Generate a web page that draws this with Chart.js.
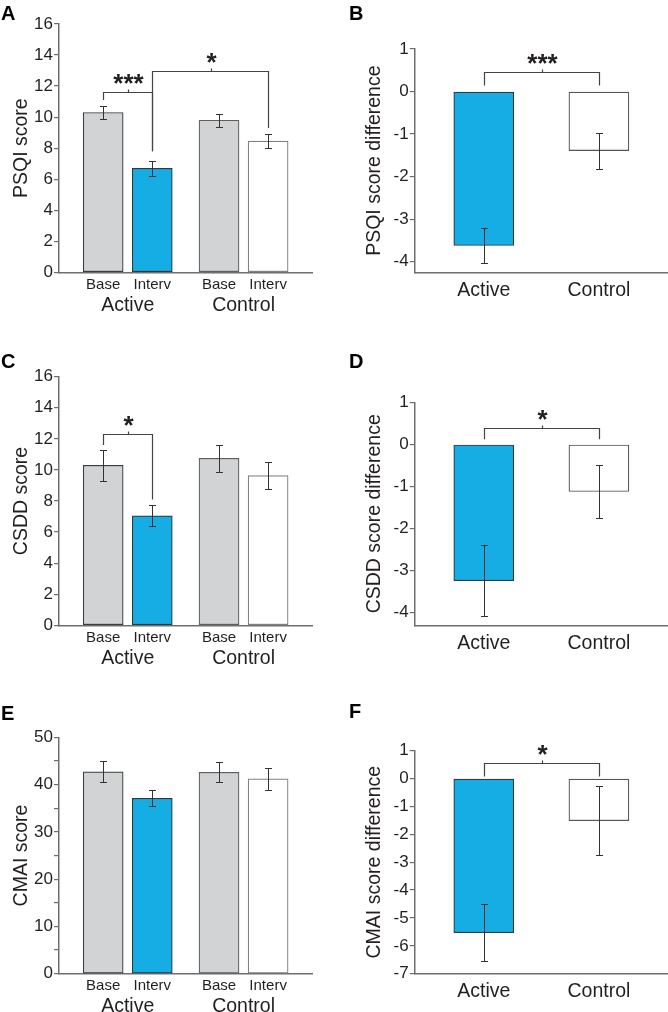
<!DOCTYPE html>
<html>
<head>
<meta charset="utf-8">
<title>PSQI, CSDD and CMAI scores</title>
<script src="https://cdn.jsdelivr.net/npm/chart.js@4.4.1/dist/chart.umd.min.js"></script>
<style>
  html, body { margin: 0; padding: 0; background: #fff; }
  #figure { position: relative; width: 668px; height: 1012px; overflow: hidden; }
  #figure canvas { position: absolute; }
  .panel-label { position: absolute; font: bold 20px 'Liberation Sans', Arial, sans-serif; line-height: 20px; color: #000; }
</style>
</head>
<body>
<div id="figure">
  <canvas id="chartA" width="334" height="330" style="left:0;top:0"></canvas>
  <canvas id="chartB" width="334" height="330" style="left:334px;top:0"></canvas>
  <canvas id="chartC" width="334" height="340" style="left:0;top:330px"></canvas>
  <canvas id="chartD" width="334" height="340" style="left:334px;top:330px"></canvas>
  <canvas id="chartE" width="334" height="342" style="left:0;top:670px"></canvas>
  <canvas id="chartF" width="334" height="342" style="left:334px;top:670px"></canvas>
  <div class="panel-label" style="left:1px;top:3px">A</div>
  <div class="panel-label" style="left:349px;top:3px">B</div>
  <div class="panel-label" style="left:1px;top:351px">C</div>
  <div class="panel-label" style="left:349px;top:351px">D</div>
  <div class="panel-label" style="left:1px;top:703px">E</div>
  <div class="panel-label" style="left:349px;top:701px">F</div>
</div>
<script>
// Categories
const groupLabels = ['Active', 'Control'];
const barLabels = ['Base', 'Interv', 'Base', 'Interv'];
const barGroup = [0, 0, 1, 1];

// PSQI (panel A: scores, panel B: differences)
const psqiMeans = [10.3, 6.7, 9.8, 8.45];
const psqiErrors = [0.4, 0.48, 0.42, 0.45];
const psqiDiff = [-3.62, -1.39];
const psqiDiffErrors = [0.41, 0.42];

// CSDD (panels C, D)
const csddMeans = [10.3, 7.05, 10.75, 9.63];
const csddErrors = [1.0, 0.68, 0.88, 0.85];
const csddDiff = [-3.24, -1.12];
const csddDiffErrors = [0.84, 0.64];

// CMAI (panels E, F)
const cmaiMeans = [42.7, 37.1, 42.6, 41.2];
const cmaiErrors = [2.2, 1.7, 2.15, 2.25];
const cmaiDiff = [-5.53, -1.51];
const cmaiDiffErrors = [1.02, 1.23];

// Tick values
const scoreTicks = [0, 2, 4, 6, 8, 10, 12, 14, 16];
const cmaiTicks = [0, 5, 10, 15, 20, 25, 30, 35, 40, 45, 50];
const psqiDiffTicks = [-4, -3, -2, -1, 0, 1];
const csddDiffTicks = [-4, -3, -2, -1, 0, 1];
const cmaiDiffTicks = [-7, -6, -5, -4, -3, -2, -1, 0, 1];

// Significance brackets (bar indices, levels in value units)
const psqiBrackets = [
    { from: 0, to: 1, level: 11.6, leftEnd: 11.1, rightEnd: 7.8, text: '***' },
    { from: 1, to: 3, level: 12.95, leftEnd: 7.8, rightEnd: 9.3, text: '*' }
];
const psqiDiffBrackets = [{ from: 0, to: 1, level: 0.47, leftEnd: 0.14, rightEnd: 0.14, text: '***' }];
const csddBrackets = [{ from: 0, to: 1, level: 12.29, leftEnd: 11.6, rightEnd: 8.1, text: '*' }];
const csddDiffBrackets = [{ from: 0, to: 1, level: 0.40, leftEnd: 0.12, rightEnd: 0.12, text: '*' }];
const cmaiDiffBrackets = [{ from: 0, to: 1, level: 0.55, leftEnd: 0.07, rightEnd: 0.07, text: '*' }];

// Styles
const FONT = "'Liberation Sans', Arial, Helvetica, sans-serif";
const TEXT = '#231f20';
const AXIS = '#6d6e70';
const GREY = '#d1d3d4';
const BLUE = 'rgb(22, 173, 228)';
const WHITE = '#ffffff';
const GROUP_GAP = 0.36;

Chart.defaults.font.family = FONT;
Chart.defaults.color = TEXT;

// Error bars drawn on top of the bars
const errorBarPlugin = {
    id: 'errorBars',
    afterDatasetsDraw(chart, args, opts) {
        const ctx = chart.ctx;
        const y = chart.scales.y;
        const meta = chart.getDatasetMeta(0);
        const values = chart.data.datasets[0].data;
        ctx.save();
        ctx.strokeStyle = opts.color;
        ctx.lineWidth = 1;
        meta.data.forEach((bar, i) => {
            const v = values[i].y;
            const e = opts.errors[i];
            const x = Math.round(bar.x) + 0.5;
            const top = Math.round(y.getPixelForValue(v + e)) + 0.5;
            const bottom = Math.round(y.getPixelForValue(v - e)) + 0.5;
            const half = opts.cap / 2;
            ctx.beginPath();
            ctx.moveTo(x, top);
            ctx.lineTo(x, bottom);
            ctx.moveTo(x - half, top);
            ctx.lineTo(x + half, top);
            ctx.moveTo(x - half, bottom);
            ctx.lineTo(x + half, bottom);
            ctx.stroke();
        });
        ctx.restore();
    }
};

// Significance brackets with stars
const bracketPlugin = {
    id: 'brackets',
    afterDatasetsDraw(chart, args, opts) {
        const ctx = chart.ctx;
        const y = chart.scales.y;
        const meta = chart.getDatasetMeta(0);
        ctx.save();
        ctx.strokeStyle = opts.color;
        ctx.lineWidth = 1.2;
        (opts.items || []).forEach(b => {
            const x1 = Math.round(meta.data[b.from].x) + 0.5;
            const x2 = Math.round(meta.data[b.to].x) + 0.5;
            const yb = Math.round(y.getPixelForValue(b.level)) + 0.5;
            const xm = Math.round((x1 + x2) / 2) + 0.5;
            ctx.beginPath();
            ctx.moveTo(x1, y.getPixelForValue(b.leftEnd));
            ctx.lineTo(x1, yb);
            ctx.lineTo(x2, yb);
            ctx.lineTo(x2, y.getPixelForValue(b.rightEnd));
            ctx.moveTo(xm, yb);
            ctx.lineTo(xm, yb - 3);
            ctx.stroke();
            ctx.fillStyle = TEXT;
            ctx.font = 'bold 26px ' + FONT;
            ctx.textAlign = 'center';
            ctx.textBaseline = 'alphabetic';
            ctx.fillText(b.text, xm, yb - 1);
        });
        ctx.restore();
    }
};

function buildChart(canvasId, p) {
    const canvas = document.getElementById(canvasId);
    const area = p.area;
    const points = p.values.map((v, i) => ({ x: p.xValues[i], y: v }));

    const scales = {
        x: {
            type: 'linear',
            min: p.xMin,
            max: p.xMax,
            offset: false,
            weight: 0,
            grid: { display: false, drawTicks: false, offset: false },
            border: { color: AXIS, width: 1.5 },
            afterBuildTicks: s => { s.ticks = p.xValues.map(v => ({ value: v })); },
            ticks: {
                autoSkip: false,
                maxRotation: 0,
                padding: p.xPad,
                color: TEXT,
                font: { size: p.xFont },
                callback: (v, i) => p.xLabels[i]
            },
            afterFit: s => { s.height = p.xHeight; }
        },
        y: {
            min: p.yMin,
            max: p.yMax,
            afterBuildTicks: s => { s.ticks = p.yTicks.map(v => ({ value: v })); },
            ticks: {
                autoSkip: false,
                padding: 1,
                color: TEXT,
                font: { size: 17 },
                callback: p.yLabel || (v => String(v))
            },
            grid: { drawOnChartArea: false, tickLength: 5, color: AXIS, lineWidth: 1.2 },
            border: { color: AXIS, width: 1.5 },
            title: {
                display: true,
                text: p.yTitle,
                color: TEXT,
                font: { size: 19.5 },
                padding: { top: p.titlePad, bottom: 0 }
            },
            afterFit: s => { s.width = area.left; }
        }
    };

    if (p.groupValues) {
        scales.x2 = {
            type: 'linear',
            position: 'bottom',
            min: p.xMin,
            max: p.xMax,
            offset: false,
            weight: 1,
            grid: { display: false, drawTicks: false },
            border: { display: false },
            afterBuildTicks: s => { s.ticks = p.groupValues.map(v => ({ value: v })); },
            ticks: {
                autoSkip: false,
                maxRotation: 0,
                padding: 1.5,
                color: TEXT,
                font: { size: 19.5 },
                callback: (v, i) => groupLabels[i]
            },
            afterFit: s => { s.height = canvas.height - area.bottom - p.xHeight; }
        };
    }

    return new Chart(canvas, {
        type: 'bar',
        data: {
            datasets: [{
                data: points,
                backgroundColor: p.colors,
                borderColor: p.borders,
                borderWidth: 1.2,
                borderSkipped: false,
                barThickness: p.barWidth
            }]
        },
        options: {
            responsive: false,
            animation: false,
            layout: {
                padding: { left: 0, top: area.top, right: canvas.width - area.right, bottom: 0 }
            },
            scales: scales,
            plugins: {
                legend: { display: false },
                tooltip: { enabled: false },
                errorBars: { errors: p.errors, color: '#333333', cap: 7 },
                brackets: { items: p.brackets, color: '#444444' }
            }
        },
        plugins: [errorBarPlugin, bracketPlugin]
    });
}

// Score panels: four bars in two groups
function scorePanel(canvasId, means, errors, brackets, yTicks, yTitle, area, titlePad, yLabel) {
    const xValues = barLabels.map((label, i) => i + barGroup[i] * GROUP_GAP);
    const groupValues = groupLabels.map((g, gi) => {
        const xs = xValues.filter((x, i) => barGroup[i] === gi);
        return (xs[0] + xs[xs.length - 1]) / 2;
    });
    return buildChart(canvasId, {
        values: means,
        errors: errors,
        brackets: brackets,
        xValues: xValues,
        xLabels: barLabels,
        groupValues: groupValues,
        xMin: -0.9,
        xMax: xValues[xValues.length - 1] + 0.9,
        xPad: 3.5,
        xFont: 15,
        xHeight: 20,
        yMin: yTicks[0],
        yMax: yTicks[yTicks.length - 1],
        yTicks: yTicks,
        yLabel: yLabel,
        yTitle: yTitle,
        area: area,
        titlePad: titlePad,
        barWidth: 40,
        colors: [GREY, BLUE, GREY, WHITE],
        borders: ['#3d3d3d', '#2f3a40', '#5e5e5e', '#808080']
    });
}

// Difference panels: Active vs Control
function diffPanel(canvasId, diffs, errors, brackets, yTicks, yMin, yTitle, area, titlePad) {
    const canvas = document.getElementById(canvasId);
    return buildChart(canvasId, {
        values: diffs,
        errors: errors,
        brackets: brackets,
        xValues: groupLabels.map((g, i) => i),
        xLabels: groupLabels,
        xMin: -0.6,
        xMax: 1.6,
        xPad: 6.5,
        xFont: 19.5,
        xHeight: canvas.height - area.bottom,
        yMin: yMin,
        yMax: yTicks[yTicks.length - 1],
        yTicks: yTicks,
        yTitle: yTitle,
        area: area,
        titlePad: titlePad,
        barWidth: 60,
        colors: [BLUE, WHITE],
        borders: ['#2f3a40', '#555555']
    });
}

scorePanel('chartA', psqiMeans, psqiErrors, psqiBrackets, scoreTicks, 'PSQI score',
    { left: 59, top: 24, right: 312.3, bottom: 272.3 }, 9.5);
diffPanel('chartB', psqiDiff, psqiDiffErrors, psqiDiffBrackets, psqiDiffTicks, -4.25, 'PSQI score difference',
    { left: 80.7, top: 49, right: 334, bottom: 272.3 }, 29);
scorePanel('chartC', csddMeans, csddErrors, csddBrackets, scoreTicks, 'CSDD score',
    { left: 59, top: 46.7, right: 312.3, bottom: 295.3 }, 9.5);
diffPanel('chartD', csddDiff, csddDiffErrors, csddDiffBrackets, csddDiffTicks, -4.3, 'CSDD score difference',
    { left: 80.7, top: 72.3, right: 334, bottom: 295.3 }, 29);
scorePanel('chartE', cmaiMeans, cmaiErrors, [], cmaiTicks, 'CMAI score',
    { left: 59, top: 67.3, right: 312.3, bottom: 303.7 }, 9.5, v => (v % 10 === 0 ? String(v) : ''));
diffPanel('chartF', cmaiDiff, cmaiDiffErrors, cmaiDiffBrackets, cmaiDiffTicks, -7, 'CMAI score difference',
    { left: 80.7, top: 80.7, right: 334, bottom: 303.7 }, 29);
</script>
</body>
</html>
